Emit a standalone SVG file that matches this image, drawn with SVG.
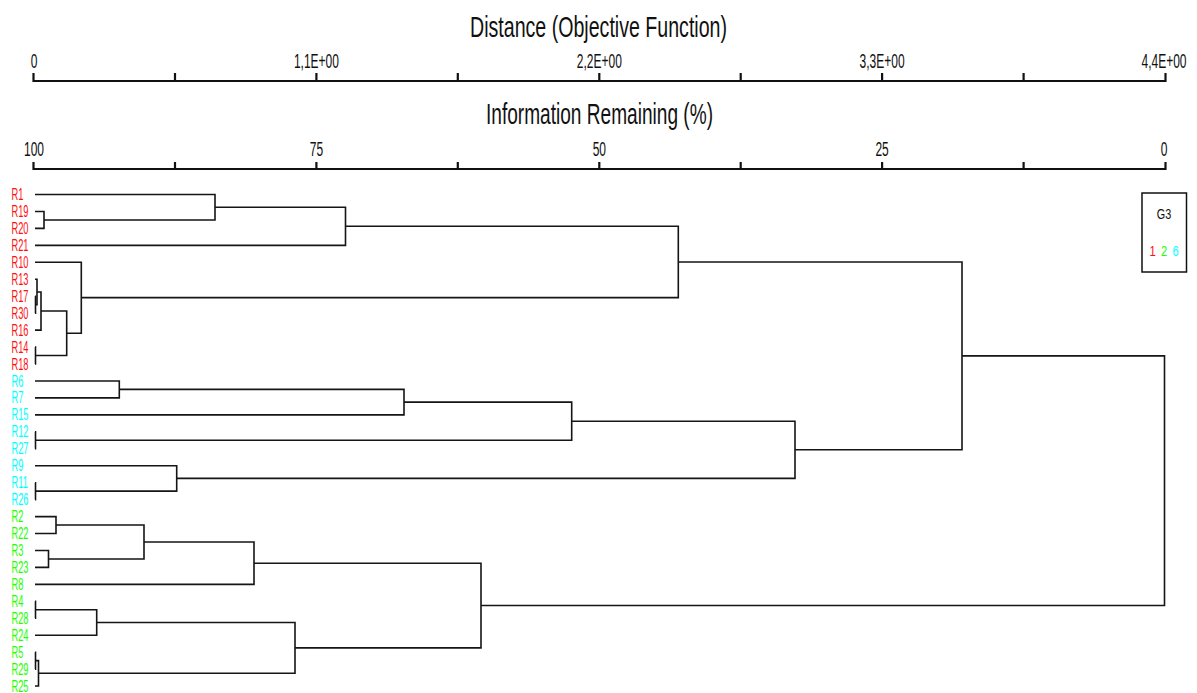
<svg xmlns="http://www.w3.org/2000/svg" width="1197" height="693" viewBox="0 0 1197 693">
<style>
.t{font-family:"Liberation Sans",Arial,sans-serif;fill:#111}
.tk{font-size:20px;text-anchor:middle}
.ttl{font-size:30px;text-anchor:middle}
.lb{font-family:"Liberation Sans",Arial,sans-serif;font-size:16.3px}
.lg{font-family:"Liberation Sans",Arial,sans-serif;font-size:15.5px;text-anchor:middle}
.r{fill:#ff1010}.g{fill:#22ff00}.c{fill:#00ffff}
.ax{fill:none;stroke:#111;stroke-width:2.2}
.ln{fill:none;stroke:#151515;stroke-width:1.6}
</style>
<rect width="1197" height="693" fill="#fff"/>
<g id="axis-distance">
<text class="t ttl" x="598.5" y="37" textLength="257" lengthAdjust="spacingAndGlyphs">Distance (Objective Function)</text>
<path class="ax" d="M33.5 73 V81 H1165.5 V73 M175 73V81 M316.4 73V81 M457.8 73V81 M599.3 73V81 M740.7 73V81 M882.1 73V81 M1023.6 73V81"/>
<text class="t tk" transform="translate(34 68) scale(0.6 1)">0</text>
<text class="t tk" transform="translate(316.4 68) scale(0.6 1)">1,1E+00</text>
<text class="t tk" transform="translate(599.3 68) scale(0.6 1)">2,2E+00</text>
<text class="t tk" transform="translate(882.1 68) scale(0.6 1)">3,3E+00</text>
<text class="t tk" transform="translate(1164 68) scale(0.6 1)">4,4E+00</text>
</g>
<g id="axis-information">
<text class="t ttl" x="599.5" y="124" textLength="227" lengthAdjust="spacingAndGlyphs">Information Remaining (%)</text>
<path class="ax" d="M33.5 162 V169 H1165.5 V162 M175 162V169 M316.4 162V169 M457.8 162V169 M599.3 162V169 M740.7 162V169 M882.1 162V169 M1023.6 162V169"/>
<text class="t tk" transform="translate(34 155.5) scale(0.6 1)">100</text>
<text class="t tk" transform="translate(316.4 155.5) scale(0.6 1)">75</text>
<text class="t tk" transform="translate(599.3 155.5) scale(0.6 1)">50</text>
<text class="t tk" transform="translate(882.1 155.5) scale(0.6 1)">25</text>
<text class="t tk" transform="translate(1164 155.5) scale(0.6 1)">0</text>
</g>
<g id="leaves">
<g id="R1"><text class="lb r" transform="translate(11.5 200) scale(0.57 1)">R1</text></g>
<g id="R19"><text class="lb r" transform="translate(11.5 217) scale(0.57 1)">R19</text></g>
<g id="R20"><text class="lb r" transform="translate(11.5 233.9) scale(0.57 1)">R20</text></g>
<g id="R21"><text class="lb r" transform="translate(11.5 250.9) scale(0.57 1)">R21</text></g>
<g id="R10"><text class="lb r" transform="translate(11.5 267.8) scale(0.57 1)">R10</text></g>
<g id="R13"><text class="lb r" transform="translate(11.5 284.8) scale(0.57 1)">R13</text></g>
<g id="R17"><text class="lb r" transform="translate(11.5 301.7) scale(0.57 1)">R17</text></g>
<g id="R30"><text class="lb r" transform="translate(11.5 318.7) scale(0.57 1)">R30</text></g>
<g id="R16"><text class="lb r" transform="translate(11.5 335.6) scale(0.57 1)">R16</text></g>
<g id="R14"><text class="lb r" transform="translate(11.5 352.6) scale(0.57 1)">R14</text></g>
<g id="R18"><text class="lb r" transform="translate(11.5 369.5) scale(0.57 1)">R18</text></g>
<g id="R6"><text class="lb c" transform="translate(11.5 386.5) scale(0.57 1)">R6</text></g>
<g id="R7"><text class="lb c" transform="translate(11.5 403.4) scale(0.57 1)">R7</text></g>
<g id="R15"><text class="lb c" transform="translate(11.5 420.4) scale(0.57 1)">R15</text></g>
<g id="R12"><text class="lb c" transform="translate(11.5 437.3) scale(0.57 1)">R12</text></g>
<g id="R27"><text class="lb c" transform="translate(11.5 454.3) scale(0.57 1)">R27</text></g>
<g id="R9"><text class="lb c" transform="translate(11.5 471.2) scale(0.57 1)">R9</text></g>
<g id="R11"><text class="lb c" transform="translate(11.5 488.2) scale(0.57 1)">R11</text></g>
<g id="R26"><text class="lb c" transform="translate(11.5 505.1) scale(0.57 1)">R26</text></g>
<g id="R2"><text class="lb g" transform="translate(11.5 522.1) scale(0.57 1)">R2</text></g>
<g id="R22"><text class="lb g" transform="translate(11.5 539) scale(0.57 1)">R22</text></g>
<g id="R3"><text class="lb g" transform="translate(11.5 556) scale(0.57 1)">R3</text></g>
<g id="R23"><text class="lb g" transform="translate(11.5 572.9) scale(0.57 1)">R23</text></g>
<g id="R8"><text class="lb g" transform="translate(11.5 589.9) scale(0.57 1)">R8</text></g>
<g id="R4"><text class="lb g" transform="translate(11.5 606.8) scale(0.57 1)">R4</text></g>
<g id="R28"><text class="lb g" transform="translate(11.5 623.8) scale(0.57 1)">R28</text></g>
<g id="R24"><text class="lb g" transform="translate(11.5 640.7) scale(0.57 1)">R24</text></g>
<g id="R5"><text class="lb g" transform="translate(11.5 657.7) scale(0.57 1)">R5</text></g>
<g id="R29"><text class="lb g" transform="translate(11.5 674.6) scale(0.57 1)">R29</text></g>
<g id="R25"><text class="lb g" transform="translate(11.5 691.6) scale(0.57 1)">R25</text></g>
</g>
<g id="connectors" class="ln">
<path d="M35 211.5 H44 V228.4 H35"/>
<path d="M35 194.5 H215 V220 H44"/>
<path d="M215 207.2 H345.5 V245.4 H35"/>
<path d="M35 296.2 H35.5 V313.2 H35"/>
<path d="M35 279.3 H37 V304.7 H35.5"/>
<path d="M37 292 H41 V330.1 H35"/>
<path d="M35 347.1 H35.5 V364 H35"/>
<path d="M41 311 H66.7 V355.5 H35.5"/>
<path d="M35 262.3 H81.3 V333.3 H66.7"/>
<path d="M345.5 226.3 H678.3 V297.6 H81.3"/>
<path d="M35 381 H119.3 V397.9 H35"/>
<path d="M119.3 389.4 H404 V414.9 H35"/>
<path d="M35 431.8 H35.5 V448.8 H35"/>
<path d="M404 402.1 H571.7 V440.3 H35.5"/>
<path d="M35 482.7 H35.5 V499.6 H35"/>
<path d="M35 465.7 H176.7 V491.1 H35.5"/>
<path d="M571.7 421.2 H795 V478.4 H176.7"/>
<path d="M678.3 262 H962 V449.8 H795"/>
<path d="M35 516.6 H56 V533.5 H35"/>
<path d="M35 550.5 H48.5 V567.4 H35"/>
<path d="M56 525 H144 V559 H48.5"/>
<path d="M144 542 H254 V584.4 H35"/>
<path d="M35 601.3 H35.5 V618.3 H35"/>
<path d="M35.5 609.8 H96.7 V635.2 H35"/>
<path d="M35 652.2 H35.5 V669.1 H35"/>
<path d="M35.5 660.6 H38.5 V686 H35"/>
<path d="M96.7 622.5 H295 V673.3 H38.5"/>
<path d="M254 563.2 H481 V647.9 H295"/>
<path d="M962 355.9 H1164.5 V605.5 H481"/>
</g>
<g id="legend">
<rect x="1142" y="193" width="44.5" height="79" fill="none" stroke="#111" stroke-width="1.5"/>
<text class="lg" fill="#111" transform="translate(1164 219) scale(0.7 1)">G3</text>
<text class="lg r" transform="translate(1152.5 256) scale(0.72 1)">1</text>
<text class="lg g" transform="translate(1164 256) scale(0.72 1)">2</text>
<text class="lg c" transform="translate(1175.5 256) scale(0.72 1)">6</text>
</g>
</svg>
